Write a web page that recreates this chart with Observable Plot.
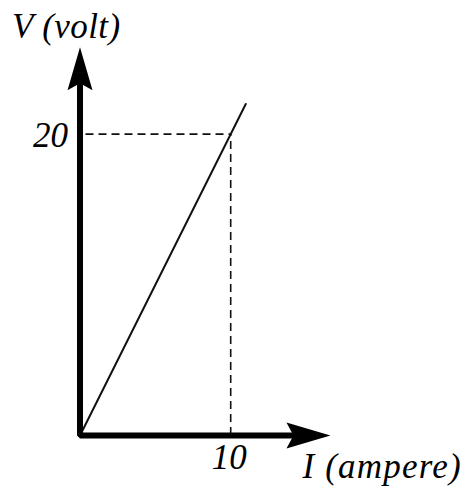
<!DOCTYPE html>
<html>
<head>
<meta charset="utf-8">
<script src="https://cdn.jsdelivr.net/npm/d3@7"></script>
<script src="https://cdn.jsdelivr.net/npm/@observablehq/plot@0.6"></script>
<style>
  html, body { margin: 0; padding: 0; background: #fff; }
  #chart svg { display: block; }
  #chart .xtitle { letter-spacing: 1.2px; }
  #chart .ytitle { letter-spacing: 0.4px; }
</style>
</head>
<body>
<div id="chart"></div>
<script>
// Ohmic conductor: voltage V against current I
const current = [0, 11];          // I (ampere)
const voltage = [0, 22];          // V (volt)

// Marked reading on the line
const xTicks = [10];
const yTicks = [20];

// Axis extents (where the arrow tips sit) and axis titles
const xAxisEnd = 16.62;
const yAxisEnd = 25.77;
const xLabel = "I (ampere)";
const yLabel = "V (volt)";

const W = 467, H = 486;
const marginLeft = 79.5, marginBottom = 51;
const pxPerUnit = 15.07;

const font = "'Liberation Serif', 'Times New Roman', serif";

// Filled stealth-style arrowheads, tip at the symbol origin
const headUp = {
  draw(ctx) {
    ctx.moveTo(0, 0);
    ctx.lineTo(12.5, 43);
    ctx.lineTo(0, 36);
    ctx.lineTo(-12.5, 43);
    ctx.closePath();
  }
};
const headRight = {
  draw(ctx) {
    ctx.moveTo(0, 0);
    ctx.lineTo(-44, -13);
    ctx.lineTo(-37, 0);
    ctx.lineTo(-44, 13);
    ctx.closePath();
  }
};

const line = current.map((I, i) => ({I, V: voltage[i]}));
const axisPath = [
  {I: 0, V: yAxisEnd - 1.5},
  {I: 0, V: 0},
  {I: xAxisEnd - 1.5, V: 0}
];

const chart = Plot.plot({
  width: W,
  height: H,
  marginLeft,
  marginBottom,
  marginTop: 0,
  marginRight: 0,
  x: {domain: [0, (W - marginLeft) / pxPerUnit], axis: null},
  y: {domain: [0, (H - marginBottom) / pxPerUnit], axis: null},
  style: {background: "#fff", overflow: "visible"},
  marks: [
    // guide lines to the marked reading
    Plot.ruleY(yTicks, {x1: 0, x2: xTicks[0], stroke: "#111", strokeWidth: 1.6, strokeDasharray: "8,5", strokeDashoffset: -6}),
    Plot.ruleX(xTicks, {y1: 0, y2: yTicks[0], stroke: "#111", strokeWidth: 1.6, strokeDasharray: "8,5"}),
    // V–I line
    Plot.line(line, {x: "I", y: "V", stroke: "#111", strokeWidth: 2}),
    // axes
    Plot.line(axisPath, {x: "I", y: "V", stroke: "#000", strokeWidth: 6, strokeLinejoin: "miter", strokeLinecap: "butt"}),
    Plot.dot([{I: 0, V: yAxisEnd}], {x: "I", y: "V", symbol: headUp, fill: "#000", stroke: "none", r: 10}),
    Plot.dot([{I: xAxisEnd, V: 0}], {x: "I", y: "V", symbol: headRight, fill: "#000", stroke: "none", r: 10}),
    // tick labels
    Plot.text(yTicks, {x: 0, y: d => d, text: d => String(d), textAnchor: "end", dx: -12, dy: 2,
      fontFamily: font, fontStyle: "italic", fontSize: 35, fill: "#000"}),
    Plot.text(xTicks, {x: d => d, y: 0, text: d => String(d), textAnchor: "middle", dx: -1.5, dy: 22,
      fontFamily: font, fontStyle: "italic", fontSize: 35, fill: "#000"}),
    // axis titles
    Plot.text([yLabel], {x: 0, y: yAxisEnd, text: d => d, textAnchor: "start", dx: -68, dy: -20,
      fontFamily: font, fontStyle: "italic", fontSize: 35, fill: "#000", className: "ytitle"}),
    Plot.text([xLabel], {x: xAxisEnd, y: 0, text: d => d, textAnchor: "start", dx: -28, dy: 31.5,
      fontFamily: font, fontStyle: "italic", fontSize: 35, fill: "#000", className: "xtitle"})
  ]
});

document.getElementById("chart").appendChild(chart);
</script>
</body>
</html>
